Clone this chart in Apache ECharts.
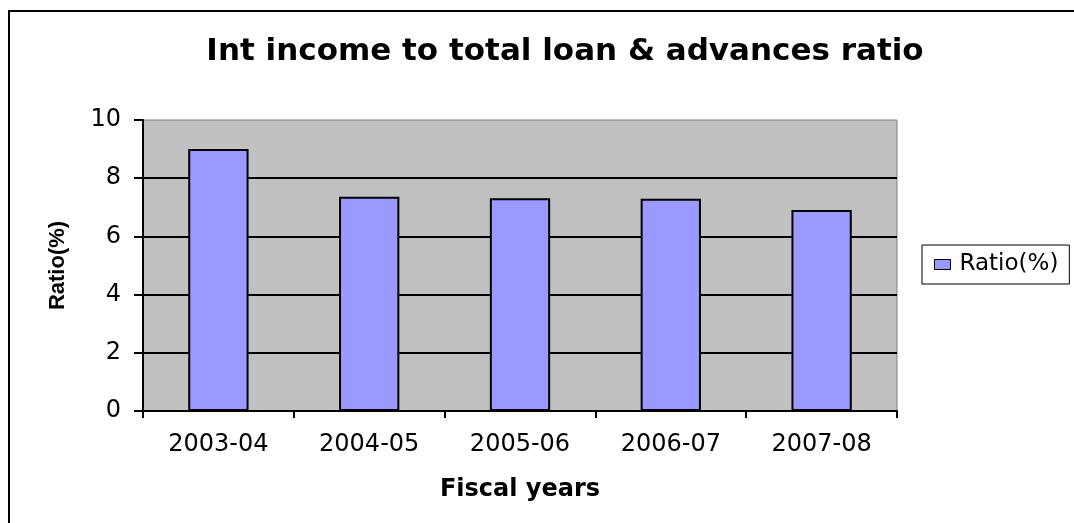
<!DOCTYPE html>
<html>
<head>
<meta charset="utf-8">
<title>Int income to total loan &amp; advances ratio</title>
<script src="https://cdn.jsdelivr.net/npm/echarts@6/dist/echarts.min.js"></script>
<style>
  html, body { margin: 0; padding: 0; background: #ffffff; }
  #chart { width: 1074px; height: 523px; }
</style>
</head>
<body>
<div id="chart"></div>
<script>
// Fiscal years on the category axis
const fiscalYears = ['2003-04', '2004-05', '2005-06', '2006-07', '2007-08'];
// Interest income as a percentage of total loans & advances
const ratioValues = [9.0, 7.36, 7.31, 7.29, 6.91];
// Value axis ticks
const yTicks = [0, 2, 4, 6, 8, 10];

const chart = echarts.init(document.getElementById('chart'), null, { renderer: 'canvas' });

chart.setOption({
  animation: false,
  backgroundColor: '#ffffff',
  graphic: [
    {
      type: 'rect',
      shape: { x: 9, y: 11, width: 1200, height: 700 },
      style: { fill: 'none', stroke: '#000000', lineWidth: 2 },
      silent: true,
      z: 0
    }
  ],
  title: {
    text: 'Int income to total loan & advances ratio',
    left: 560,
    textAlign: 'center',
    top: 31,
    textStyle: {
      fontFamily: 'DejaVu Sans',
      fontWeight: 'bold',
      fontSize: 31,
      color: '#000000'
    }
  },
  legend: {
    data: ['Ratio(%)'],
    orient: 'vertical',
    left: 922,
    top: 245,
    padding: [8, 11, 8, 12],
    backgroundColor: '#ffffff',
    borderColor: '#000000',
    borderWidth: 1,
    itemWidth: 16,
    itemHeight: 10,
    itemGap: 0,
    icon: 'rect',
    itemStyle: { color: '#9999ff', borderColor: '#000000', borderWidth: 1 },
    textStyle: {
      fontFamily: 'DejaVu Sans',
      fontSize: 23,
      color: '#000000',
      padding: [0, 0, 0, 4]
    }
  },
  grid: {
    left: 143,
    top: 120,
    right: 177,
    bottom: 112,
    show: true,
    backgroundColor: '#c0c0c0',
    borderColor: '#808080',
    borderWidth: 1
  },
  xAxis: {
    type: 'category',
    data: fiscalYears,
    name: 'Fiscal years',
    nameLocation: 'middle',
    nameGap: 67,
    nameTextStyle: {
      fontFamily: 'DejaVu Sans',
      fontWeight: 'bold',
      fontSize: 24,
      color: '#000000'
    },
    axisLine: { show: true, lineStyle: { color: '#000000', width: 2 } },
    axisTick: { show: true, length: 7, lineStyle: { color: '#000000', width: 2 } },
    axisLabel: {
      margin: 22,
      fontFamily: 'DejaVu Sans',
      fontSize: 24,
      color: '#000000'
    },
    splitLine: { show: false }
  },
  yAxis: {
    type: 'value',
    min: yTicks[0],
    max: yTicks[yTicks.length - 1],
    interval: yTicks[1] - yTicks[0],
    name: 'Ratio(%)',
    nameLocation: 'middle',
    nameRotate: 90,
    nameGap: 74,
    nameTextStyle: {
      fontFamily: 'Liberation Sans',
      fontWeight: 'bold',
      fontSize: 22,
      color: '#000000'
    },
    axisLine: { show: true, lineStyle: { color: '#000000', width: 2 } },
    axisTick: { show: true, length: 9, lineStyle: { color: '#000000', width: 2 } },
    axisLabel: {
      margin: 22,
      fontFamily: 'DejaVu Sans',
      fontSize: 24,
      color: '#000000'
    },
    splitLine: {
      show: true,
      showMinLine: false,
      showMaxLine: false,
      lineStyle: { color: '#000000', width: 2 }
    }
  },
  series: [
    {
      name: 'Ratio(%)',
      type: 'bar',
      data: ratioValues,
      barWidth: '40%',
      itemStyle: {
        color: '#9999ff',
        borderColor: '#000000',
        borderWidth: 2
      }
    }
  ]
});
</script>
</body>
</html>
